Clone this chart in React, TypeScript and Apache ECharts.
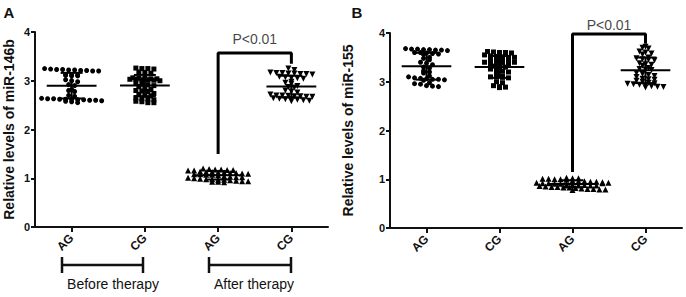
import React, { useEffect, useRef } from "react";
import * as echarts from "echarts";

const categories = ["AG", "CG", "AG", "CG"];
const yTicks = [0, 1, 2, 3, 4];

// Panel A: miR-146b
const aBeforeAG = [3.25,3.24,3.23,3.23,3.22,3.22,3.21,3.21,3.20,3.20,3.13,3.12,3.12,3.11,3.10,3.10,3.02,3.00,2.98,2.92,2.90,2.82,2.80,2.78,2.70,2.68,2.64,2.63,2.63,2.62,2.62,2.62,2.61,2.61,2.60,2.60,2.59,2.58,2.57,2.55];
const aBeforeCG = [3.26,3.25,3.25,3.24,3.18,3.17,3.15,3.06,3.05,3.05,3.04,3.04,3.03,3.03,3.02,3.02,3.01,3.00,2.95,2.93,2.92,2.90,2.88,2.84,2.82,2.80,2.79,2.78,2.74,2.72,2.70,2.69,2.65,2.63,2.62,2.61,2.58,2.57,2.55,2.55];
const aAfterAG = [1.20,1.19,1.18,1.18,1.17,1.17,1.16,1.16,1.14,1.13,1.13,1.12,1.12,1.11,1.11,1.10,1.09,1.08,1.08,1.07,1.07,1.06,1.04,1.03,1.02,1.02,1.01,1.00,0.99,0.98,0.98,0.97,0.97,0.96,0.95,0.94,0.94,0.93,0.93,0.92];
const aAfterCG = [3.25,3.22,3.17,3.16,3.16,3.15,3.15,3.14,3.14,3.13,3.08,3.07,3.06,3.05,3.04,2.98,2.96,2.94,2.89,2.87,2.86,2.80,2.78,2.76,2.72,2.70,2.70,2.69,2.68,2.68,2.67,2.67,2.64,2.63,2.62,2.62,2.61,2.60,2.59,2.58];

// Panel B: miR-155
const bBeforeAG = [3.68,3.67,3.67,3.66,3.66,3.65,3.65,3.64,3.60,3.60,3.59,3.58,3.57,3.56,3.50,3.48,3.45,3.40,3.38,3.35,3.30,3.28,3.22,3.20,3.18,3.12,3.10,3.08,3.07,3.06,3.05,3.05,3.04,3.03,2.98,2.96,2.95,2.92,2.91,2.90];
const bBeforeCG = [3.62,3.61,3.60,3.60,3.59,3.55,3.53,3.52,3.51,3.50,3.50,3.45,3.43,3.42,3.40,3.36,3.34,3.32,3.30,3.30,3.26,3.24,3.22,3.20,3.15,3.12,3.10,3.10,3.09,3.08,3.38,3.36,3.00,2.98,3.45,3.40,2.92,2.90,2.89,2.88];
const bAfterAG = [1.03,1.02,1.02,1.01,1.01,1.00,1.00,0.99,0.97,0.96,0.96,0.95,0.95,0.94,0.93,0.92,0.92,0.91,0.91,0.90,0.89,0.88,0.88,0.87,0.87,0.86,0.85,0.84,0.84,0.83,0.83,0.82,0.81,0.80,0.80,0.79,0.79,0.78,0.92,0.93];
const bAfterCG = [3.72,3.70,3.68,3.62,3.60,3.58,3.56,3.50,3.48,3.46,3.45,3.44,3.38,3.36,3.35,3.33,3.28,3.26,3.25,3.24,3.18,3.16,3.14,3.12,3.10,3.06,3.05,3.04,3.02,3.00,2.98,2.97,2.96,2.95,2.94,2.92,2.91,2.90,2.89,2.88];

// significance brackets (category index, value)
const aBracket = [[2, 1.5], [2, 3.57], [3, 3.57], [3, 3.35]];
const bBracket = [[2, 1.15], [2, 3.98], [3, 3.98], [3, 3.78]];
const aPLabel = [[2.5, 3.86]];
const bPLabel = [[2.5, 4.16]];

function swarm(vals: number[], cx: number) {
  const bins = new Map<number, number[]>();
  vals.forEach((v) => {
    const k = Math.round(v / 0.075);
    if (!bins.has(k)) bins.set(k, []);
    bins.get(k)!.push(v);
  });
  const out: number[][] = [];
  bins.forEach((arr) => {
    const n = arr.length;
    arr.forEach((v, i) => out.push([cx + (i - (n - 1) / 2) * 0.082, v]));
  });
  return out;
}

function stats(vals: number[], cx: number) {
  const m = vals.reduce((a, b) => a + b, 0) / vals.length;
  const sd = Math.sqrt(vals.reduce((a, b) => a + (b - m) * (b - m), 0) / (vals.length - 1));
  return [cx, m, sd];
}

const FONT = "Liberation Sans, Arial, sans-serif";

export default function App() {
  const ref = useRef<HTMLDivElement>(null);
  useEffect(() => {
    const chart = echarts.init(ref.current!, null, { renderer: "svg" });
    const panels = [
      { groups: [aBeforeAG, aBeforeCG, aAfterAG, aAfterCG], bracket: aBracket, plabel: aPLabel },
      { groups: [bBeforeAG, bBeforeCG, bAfterAG, bAfterCG], bracket: bBracket, plabel: bPLabel },
    ];
    const symbols = [
      { symbol: "circle", size: 5, rotate: 0 },
      { symbol: "rect", size: 5, rotate: 0 },
      { symbol: "triangle", size: 6, rotate: 0 },
      { symbol: "triangle", size: 6, rotate: 180 },
    ];
    const series: any[] = [];
    panels.forEach((p, pi) => {
      p.groups.forEach((g, gi) => {
        series.push({
          type: "scatter",
          xAxisIndex: pi,
          yAxisIndex: pi,
          data: swarm(g, gi),
          symbol: symbols[gi].symbol,
          symbolSize: symbols[gi].size,
          symbolRotate: symbols[gi].rotate,
          itemStyle: { color: "#000", opacity: 1 },
          z: 2,
        });
      });
      series.push({
        type: "custom",
        xAxisIndex: pi,
        yAxisIndex: pi,
        data: p.groups.map((g, gi) => stats(g, gi)),
        z: 3,
        renderItem: (params: any, api: any) => {
          const x = api.value(0), m = api.value(1), s = api.value(2);
          const c = api.coord([x, m]);
          const t = api.coord([x, m + s]);
          const b = api.coord([x, m - s]);
          const hw = api.size([0.34, 0])[0];
          const cw = api.size([0.15, 0])[0];
          const st = { stroke: "#000", lineWidth: 2 };
          return {
            type: "group",
            children: [
              { type: "line", shape: { x1: c[0] - hw, y1: c[1], x2: c[0] + hw, y2: c[1] }, style: st },
              { type: "line", shape: { x1: c[0], y1: t[1], x2: c[0], y2: b[1] }, style: st },
              { type: "line", shape: { x1: c[0] - cw, y1: t[1], x2: c[0] + cw, y2: t[1] }, style: st },
              { type: "line", shape: { x1: c[0] - cw, y1: b[1], x2: c[0] + cw, y2: b[1] }, style: st },
            ],
          };
        },
      });
      series.push({
        type: "line",
        xAxisIndex: pi,
        yAxisIndex: pi,
        data: p.bracket,
        symbol: "none",
        lineStyle: { color: "#000", width: 3 },
        clip: false,
        z: 4,
      });
      series.push({
        type: "scatter",
        xAxisIndex: pi,
        yAxisIndex: pi,
        data: p.plabel,
        symbolSize: 1,
        itemStyle: { color: "rgba(0,0,0,0)" },
        clip: false,
        label: {
          show: true,
          position: "inside",
          formatter: "P<0.01",
          color: "#111",
          fontSize: 14,
          fontFamily: FONT,
        },
      });
    });

    const ticks = categories.map((_, i) => i);
    const xAxis = (gi: number) => ({
      type: "value",
      gridIndex: gi,
      min: -0.5,
      max: 3.5,
      splitLine: { show: false },
      axisLine: { show: true, onZero: false, lineStyle: { color: "#111", width: 2 } },
      axisTick: { show: true, customValues: ticks, length: 5, lineStyle: { color: "#111", width: 2 } },
      axisLabel: {
        customValues: ticks,
        formatter: (v: number) => categories[Math.round(v)] ?? "",
        rotate: 45,
        margin: 9,
        color: "#111",
        fontSize: 12,
        fontWeight: "bold",
        fontFamily: FONT,
      },
    });
    const yAxis = (gi: number, name: string, gap: number) => ({
      type: "value",
      gridIndex: gi,
      min: yTicks[0],
      max: yTicks[yTicks.length - 1],
      interval: 1,
      name,
      nameLocation: "middle",
      nameGap: gap,
      nameTextStyle: { color: "#111", fontSize: 14, fontWeight: "bold", fontFamily: FONT },
      axisLine: { show: true, onZero: false, lineStyle: { color: "#111", width: 2 } },
      axisTick: { show: true, length: 4, lineStyle: { color: "#111", width: 2 } },
      axisLabel: { color: "#111", fontSize: 11, fontWeight: "bold", fontFamily: FONT, margin: 5 },
      splitLine: { show: false },
    });

    const lineStyle = { stroke: "#111", lineWidth: 2.5 };
    const txt = (text: string, x: number, y: number, size: number, bold: boolean) => ({
      type: "text",
      x,
      y,
      style: {
        text,
        fill: "#111",
        fontSize: size,
        fontWeight: bold ? "bold" : "normal",
        fontFamily: FONT,
        textAlign: "center",
        textVerticalAlign: "middle",
      },
    });
    const bracket = (x1: number, x2: number, y: number) => [
      { type: "line", shape: { x1, y1: y, x2, y2: y }, style: lineStyle },
      { type: "line", shape: { x1, y1: y - 8, x2: x1, y2: y + 8 }, style: lineStyle },
      { type: "line", shape: { x1: x2, y1: y - 8, x2, y2: y + 8 }, style: lineStyle },
    ];

    chart.setOption({
      animation: false,
      backgroundColor: "#fff",
      grid: [
        { left: 35, top: 32, width: 293, height: 195 },
        { left: 390, top: 33, width: 292, height: 195 },
      ],
      xAxis: [xAxis(0), xAxis(1)],
      yAxis: [
        yAxis(0, "Relative levels of miR-146b", 19),
        yAxis(1, "Relative levels of miR-155", 35),
      ],
      series,
      graphic: [
        txt("A", 9, 12, 15, true),
        txt("B", 357, 12, 15, true),
        ...bracket(62, 143, 265),
        ...bracket(209, 291, 265),
        txt("Before therapy", 113, 284, 14, false),
        txt("After therapy", 254, 284, 14, false),
      ],
    });
    return () => chart.dispose();
  }, []);
  return (
    <div
      ref={ref}
      style={{ position: "fixed", left: 0, top: 0, width: 686, height: 297, background: "#fff" }}
    />
  );
}
